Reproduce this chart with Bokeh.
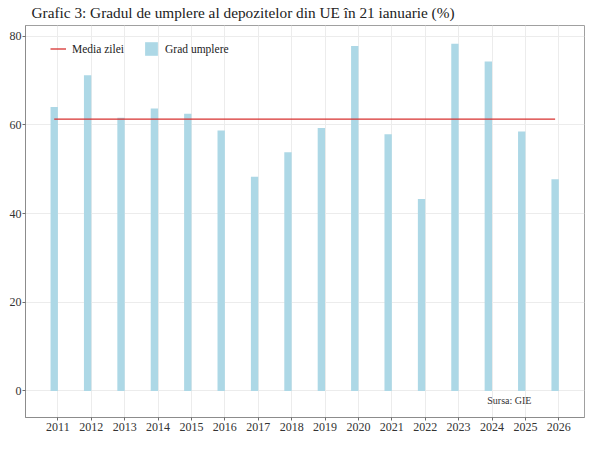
from bokeh.plotting import figure
from bokeh.models import Range1d, FixedTicker, Label, Legend, LegendItem, ColumnDataSource
from bokeh.embed import file_html
from bokeh.resources import INLINE

years = [2011, 2012, 2013, 2014, 2015, 2016, 2017, 2018, 2019, 2020, 2021, 2022, 2023, 2024, 2025, 2026]
grad_umplere = [64.0, 71.2, 61.6, 63.7, 62.5, 58.7, 48.3, 53.8, 59.3, 77.8, 57.9, 43.3, 78.3, 74.3, 58.5, 47.7]
media_zilei = 61.3
y_ticks = [0, 20, 40, 60, 80]
title_text = "Grafic 3: Gradul de umplere al depozitelor din UE în 21 ianuarie (%)"
source_text = "Sursa: GIE"

FONT = "Liberation Serif"
bar_w = 0.22
xs = [y - bar_w / 2 for y in years]

p = figure(width=592, height=442, output_backend="svg", toolbar_location=None,
           x_range=Range1d(2010.03, 2026.77), y_range=Range1d(-6.0, 82.4),
           min_border_left=25, min_border_right=8, min_border_top=24, min_border_bottom=25,
           title=title_text)
p.title.text_font = FONT
p.title.text_font_size = "15.3px"
p.title.text_font_style = "normal"
p.title.text_color = "#222222"
p.title.standoff = 6
p.title.align = "left"
p.title.vertical_align = "top"
p.title.offset = 6

src = ColumnDataSource(dict(x=xs, top=grad_umplere))
bars = p.vbar(x="x", top="top", bottom=0, width=bar_w, source=src,
              fill_color="#ADD8E6", line_color=None)
line = p.line(x=[xs[0], xs[-1]], y=[media_zilei, media_zilei], line_color="#d7302f", line_width=1.3)

p.xaxis.ticker = FixedTicker(ticks=years)
p.yaxis.ticker = FixedTicker(ticks=y_ticks)
for ax in (p.xaxis[0], p.yaxis[0]):
    ax.major_label_text_font = FONT
    ax.major_label_text_font_size = "12px"
    ax.major_label_text_color = "#333333"
    ax.axis_line_color = "#8c8c8c"
    ax.major_tick_line_color = "#6e6e6e"
    ax.major_tick_in = 0
    ax.major_tick_out = 3
    ax.minor_tick_line_color = None
    ax.major_label_standoff = 2
p.yaxis.major_label_standoff = 1

p.xgrid.grid_line_color = "#ececec"
p.ygrid.grid_line_color = "#ececec"
p.outline_line_color = "#a0a0a0"
p.outline_line_width = 1
p.background_fill_color = "white"
p.border_fill_color = "white"

legend = Legend(items=[LegendItem(label="Media zilei", renderers=[line]),
                       LegendItem(label="Grad umplere", renderers=[bars])],
                orientation="horizontal", location=(25, 360),
                padding=0, margin=0, spacing=19, label_standoff=6,
                glyph_width=16, glyph_height=17,
                label_text_font=FONT, label_text_font_size="11.5px", label_text_color="#222222",
                border_line_color=None, background_fill_alpha=0)
p.add_layout(legend, "center")

p.add_layout(Label(x=2024.52, y=-2.1, text=source_text, text_font=FONT,
                   text_font_size="10px", text_color="#333333",
                   text_align="center", text_baseline="middle"))

open("out.html", "w").write(file_html(p, INLINE))
